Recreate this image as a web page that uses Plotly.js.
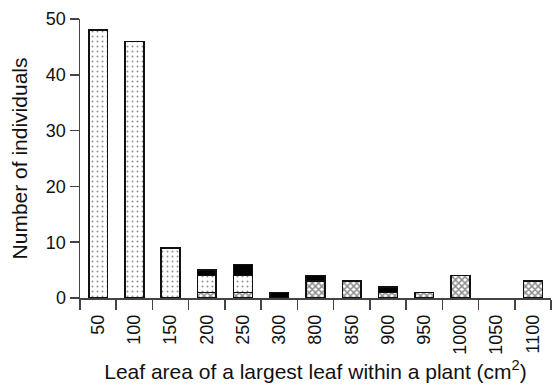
<!DOCTYPE html>
<html>
<head>
<meta charset="utf-8">
<script src="https://cdn.plot.ly/plotly-3.0.1.min.js"></script>
<style>
  html, body { margin: 0; padding: 0; background: #fff; }
  #chart { width: 553px; height: 391px; }
</style>
</head>
<body>
<div id="chart"></div>
<script>
// Leaf area classes (cm²) of the largest leaf per plant
const categories = ['50', '100', '150', '200', '250', '300', '800', '850', '900', '950', '1000', '1050', '1100'];

// Number of individuals per class, split into three groups (stacked bottom to top)
const crossCounts = [null, null, null, 1, 1, null, 3, 3, 1, 1, 4, null, 3];
const dottedCounts = [48, 46, 9, 3, 3, null, null, null, null, null, null, null, null];
const solidCounts = [null, null, null, 1, 2, 1, 1, null, 1, null, null, null, null];

const yTicks = [0, 10, 20, 30, 40, 50];

const outline = { color: '#111', width: 1.6 };

const traces = [
  {
    type: 'bar', x: categories, y: crossCounts, name: 'cross',
    marker: {
      color: '#ffffff', line: outline,
      pattern: { shape: 'x', size: 4.5, solidity: 0.55, fgcolor: '#1a1a1a', bgcolor: '#ffffff', fillmode: 'overlay' }
    }
  },
  {
    type: 'bar', x: categories, y: dottedCounts, name: 'dotted',
    marker: {
      color: '#ffffff', line: outline,
      pattern: { shape: '.', size: 5, solidity: 0.12, fgcolor: '#222', bgcolor: '#ffffff', fillmode: 'overlay' }
    }
  },
  {
    type: 'bar', x: categories, y: solidCounts, name: 'solid',
    marker: { color: '#000000', line: outline }
  }
];

const layout = {
  width: 553, height: 391,
  margin: { l: 80, r: 2, t: 19, b: 93 },
  paper_bgcolor: '#ffffff', plot_bgcolor: '#ffffff',
  barmode: 'stack', bargap: 0.48,
  showlegend: false,
  font: { family: 'Liberation Sans, Arial, sans-serif', color: '#111', size: 18 },
  xaxis: {
    type: 'category',
    automargin: false,
    showline: true, linecolor: '#444', linewidth: 1.5,
    ticks: 'outside', ticklen: 10, tickcolor: '#444', tickwidth: 1.5,
    tickson: 'boundaries',
    tickangle: -90,
    ticklabelstandoff: 8,
    tickfont: { size: 18 },
    showgrid: false, zeroline: false,
    title: { text: 'Leaf area of a largest leaf within a plant (cm<sup>2</sup>)', font: { size: 21 }, standoff: 10 }
  },
  yaxis: {
    automargin: false,
    range: [0, 50],
    tickvals: yTicks, ticktext: yTicks.map(String),
    showline: true, linecolor: '#444', linewidth: 1.5,
    ticks: 'outside', ticklen: 9, tickcolor: '#444', tickwidth: 1.5,
    tickfont: { size: 18 },
    showgrid: false, zeroline: false,
    title: { text: 'Number of individuals', font: { size: 21 }, standoff: 12 }
  }
};

Plotly.newPlot('chart', traces, layout, { displayModeBar: false, staticPlot: true });
</script>
</body>
</html>
